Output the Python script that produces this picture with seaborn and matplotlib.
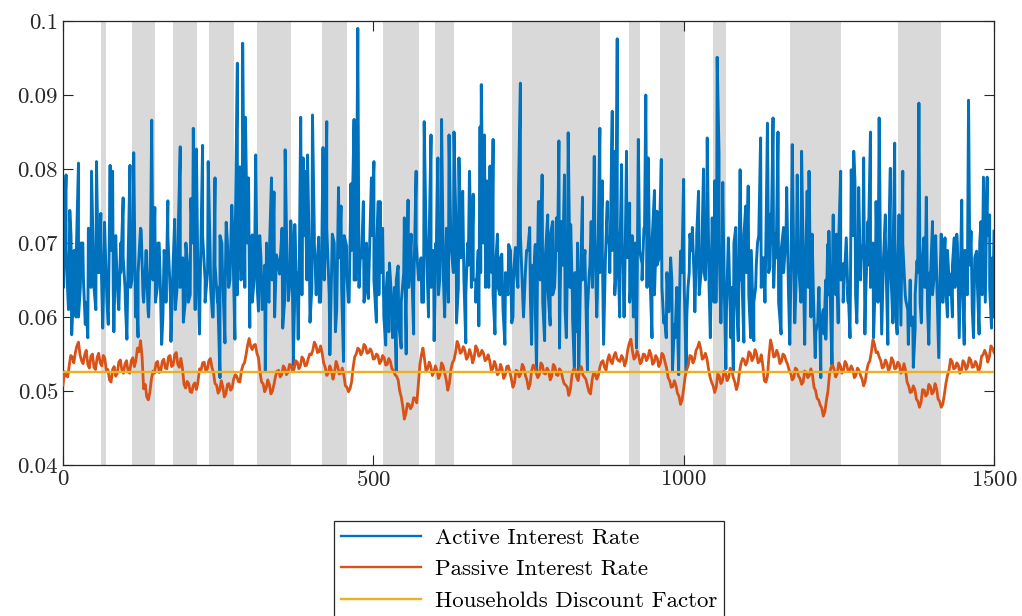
from matplotlib import pyplot as plt
from matplotlib.ticker import FuncFormatter
import seaborn
import pandas

# recession periods (shaded)
recessions = [(61, 70), (112, 149), (178, 216), (235, 275), (312, 367), (417, 457),
              (516, 573), (599, 630), (723, 866), (912, 930), (962, 1002), (1048, 1069),
              (1172, 1254), (1345, 1414)]

# active interest rate, peaks/troughs as (period, rate)
activePts = [
    (0, 0.0650), (2, 0.0715), (5, 0.0792), (8, 0.0626), (11, 0.0744), (14, 0.0576), (18, 0.0690), (21, 0.0600),
    (25, 0.0808), (28, 0.0640), (32, 0.0700), (36, 0.0590), (40, 0.0572), (43, 0.0700), (46, 0.0797), (50, 0.0640),
    (54, 0.0810), (58, 0.0660), (61, 0.0740), (64, 0.0585), (67, 0.0728), (71, 0.0620), (76, 0.0805), (80, 0.0797),
    (82, 0.0580), (86, 0.0680), (90, 0.0610), (93, 0.0700), (97, 0.0761), (100, 0.0640), (103, 0.0570), (108, 0.0805),
    (111, 0.0650), (114, 0.0822), (118, 0.0640), (121, 0.0573), (126, 0.0718), (130, 0.0620), (134, 0.0690), (138, 0.0600),
    (143, 0.0866), (148, 0.0748), (152, 0.0640), (155, 0.0700), (159, 0.0563), (163, 0.0690), (166, 0.0620), (169, 0.0757),
    (174, 0.0567), (180, 0.0732), (184, 0.0640), (189, 0.0830), (194, 0.0593), (198, 0.0700), (202, 0.0620), (206, 0.0760),
    (210, 0.0855), (215, 0.0827), (220, 0.0577), (225, 0.0832), (229, 0.0650), (234, 0.0810), (238, 0.0640), (242, 0.0600),
    (245, 0.0788), (249, 0.0620), (253, 0.0518), (256, 0.0700), (261, 0.0565), (263, 0.0728), (267, 0.0640), (272, 0.0751),
    (277, 0.0570), (281, 0.0943), (285, 0.0803), (287, 0.0650), (289.5, 0.0970), (294, 0.0870), (297, 0.0700), (299, 0.0788),
    (301, 0.0586), (305, 0.0711), (308, 0.0650), (310.5, 0.0819), (315, 0.0608), (319, 0.0680), (323, 0.0622), (326, 0.0527),
    (328, 0.0700), (332, 0.0620), (336, 0.0788), (340, 0.0769), (344, 0.0684), (349, 0.0658), (354, 0.0585), (358, 0.0826),
    (363, 0.0622), (367, 0.0730), (371, 0.0535), (373.5, 0.0725), (376, 0.0640), (379, 0.0570), (383, 0.0870), (387, 0.0815),
    (390, 0.0797), (394, 0.0819), (398, 0.0593), (402, 0.0873), (405, 0.0712), (408, 0.0630), (412, 0.0708), (415, 0.0620),
    (419, 0.0829), (422, 0.0680), (425, 0.0864), (430, 0.0549), (434, 0.0712), (439, 0.0580), (444, 0.0775), (448, 0.0750),
    (452, 0.0540), (457, 0.0696), (460, 0.0620), (464, 0.0780), (469, 0.0867), (472, 0.0650), (475, 0.0990), (479, 0.0681),
    (484, 0.0756), (488, 0.0640), (492, 0.0625), (497, 0.0788), (501, 0.0810), (505, 0.0593), (508, 0.0756), (511, 0.0756),
    (515, 0.0720), (520, 0.0562), (523, 0.0660), (526, 0.0673), (531, 0.0572), (534, 0.0640), (537, 0.0527), (540, 0.0669),
    (545, 0.0558), (550, 0.0734), (553, 0.0550), (556, 0.0758), (561, 0.0712), (565, 0.0577), (569, 0.0797), (574, 0.0660),
    (578, 0.0620), (582, 0.0864), (584, 0.0761), (589, 0.0600), (593, 0.0846), (598, 0.0568), (601, 0.0700), (604, 0.0815),
    (607, 0.0650), (610, 0.0867), (615, 0.0600), (618, 0.0720), (622, 0.0846), (626, 0.0689), (630, 0.0850), (634, 0.0592),
    (638, 0.0815), (644, 0.0770), (646, 0.0650), (649, 0.0565), (652, 0.0700), (655, 0.0797), (658, 0.0640), (661, 0.0766),
    (665, 0.0650), (670, 0.0588), (672, 0.0857), (674, 0.0914), (677, 0.0700), (679, 0.0846), (683, 0.0784), (686, 0.0640),
    (688, 0.0804), (691, 0.0660), (693, 0.0840), (696, 0.0577), (700, 0.0712), (704, 0.0630), (707, 0.0685), (712, 0.0563),
    (718, 0.0698), (723, 0.0592), (726, 0.0660), (729, 0.0694), (734, 0.0775), (737, 0.0916), (742, 0.0600), (747, 0.0690),
    (752, 0.0721), (755, 0.0563), (758, 0.0650), (761, 0.0698), (763, 0.0527), (766, 0.0756), (768, 0.0756), (772, 0.0792),
    (776, 0.0568), (781, 0.0738), (785, 0.0589), (789, 0.0729), (792, 0.0640), (795, 0.0734), (799, 0.0838), (800, 0.0558),
    (803, 0.0729), (808, 0.0792), (811, 0.0572), (814, 0.0849), (818, 0.0725), (821, 0.0620), (824, 0.0527), (828, 0.0580),
    (831, 0.0525), (834, 0.0660), (837, 0.0762), (841, 0.0690), (845, 0.0527), (848, 0.0660), (851, 0.0729), (856, 0.0817),
    (860, 0.0600), (865, 0.0855), (869, 0.0784), (871, 0.0563), (874, 0.0680), (877, 0.0756), (880, 0.0698), (885, 0.0878),
    (889, 0.0824), (891, 0.0660), (893, 0.0976), (897, 0.0600), (900, 0.0806), (904, 0.0600), (908, 0.0824), (913, 0.0754),
    (916, 0.0650), (919, 0.0600), (922, 0.0700), (924, 0.0558), (927, 0.0840), (933, 0.0672), (936, 0.0720), (939, 0.0900),
    (943, 0.0815), (946, 0.0650), (949, 0.0572), (953, 0.0771), (957, 0.0743), (961, 0.0681), (964, 0.0813), (968, 0.0592),
    (972, 0.0572), (976, 0.0607), (979, 0.0680), (982, 0.0527), (986, 0.0572), (989, 0.0640), (992, 0.0522), (995, 0.0689),
    (1000, 0.0786), (1004, 0.0527), (1007, 0.0640), (1010, 0.0712), (1014, 0.0721), (1018, 0.0607), (1021, 0.0698), (1024, 0.0770),
    (1028, 0.0660), (1032, 0.0800), (1035, 0.0650), (1038, 0.0842), (1043, 0.0572), (1046, 0.0734), (1050, 0.0784), (1052, 0.0620),
    (1054, 0.0951), (1057, 0.0820), (1060, 0.0592), (1063, 0.0782), (1068, 0.0530), (1072, 0.0707), (1076, 0.0572), (1080, 0.0527),
    (1084, 0.0721), (1088, 0.0568), (1091, 0.0799), (1094, 0.0650), (1097, 0.0566), (1100, 0.0750), (1104, 0.0777), (1108, 0.0572),
    (1110, 0.0660), (1113, 0.0568), (1116, 0.0640), (1119, 0.0700), (1124, 0.0842), (1128, 0.0680), (1131, 0.0620), (1135, 0.0862),
    (1139, 0.0667), (1141, 0.0740), (1144, 0.0869), (1148, 0.0712), (1152, 0.0850), (1157, 0.0577), (1161, 0.0721), (1166, 0.0775),
    (1171, 0.0563), (1175, 0.0833), (1179, 0.0592), (1183, 0.0792), (1186, 0.0660), (1190, 0.0824), (1195, 0.0563), (1199, 0.0770),
    (1202, 0.0797), (1207, 0.0712), (1212, 0.0545), (1216, 0.0592), (1218, 0.0640), (1221, 0.0518), (1226, 0.0577), (1229, 0.0650),
    (1232, 0.0698), (1234, 0.0716), (1239, 0.0535), (1241, 0.0738), (1246, 0.0712), (1249, 0.0592), (1253, 0.0797), (1257, 0.0672),
    (1262, 0.0707), (1265, 0.0620), (1268, 0.0572), (1270, 0.0799), (1274, 0.0824), (1276, 0.0784), (1279, 0.0592), (1282, 0.0775),
    (1286, 0.0676), (1290, 0.0815), (1292, 0.0577), (1297, 0.0729), (1301, 0.0850), (1304, 0.0650), (1306, 0.0572), (1310, 0.0756),
    (1315, 0.0869), (1319, 0.0577), (1322, 0.0680), (1325, 0.0738), (1329, 0.0563), (1333, 0.0801), (1337, 0.0592), (1340, 0.0835),
    (1344, 0.0577), (1347, 0.0738), (1350, 0.0589), (1353, 0.0797), (1358, 0.0622), (1362, 0.0563), (1366, 0.0589), (1370, 0.0532),
    (1373, 0.0585), (1376, 0.0676), (1379, 0.0889), (1383, 0.0592), (1387, 0.0707), (1391, 0.0762), (1395, 0.0563), (1398, 0.0660),
    (1401, 0.0729), (1406, 0.0710), (1411, 0.0545), (1415, 0.0712), (1418, 0.0620), (1421, 0.0707), (1425, 0.0600), (1430, 0.0658),
    (1433, 0.0600), (1436, 0.0707), (1440, 0.0712), (1444, 0.0572), (1448, 0.0758), (1452, 0.0563), (1456, 0.0689), (1459, 0.0893),
    (1463, 0.0716), (1467, 0.0572), (1472, 0.0689), (1476, 0.0577), (1479, 0.0729), (1483, 0.0789), (1486, 0.0620), (1489, 0.0789),
    (1493, 0.0738), (1496, 0.0585), (1498, 0.0600), (1500, 0.0716),
]

# active interest rate inside the dense core band, every 4 periods (offset 1)
activeCorePeriods = list(range(1, 1502, 4))
activeCoreRate = [
    0.064, 0.069, 0.061, 0.071, 0.063, 0.067, 0.060, 0.070, 0.065, 0.062, 0.072, 0.064, 0.068, 0.061, 0.066, 0.070, 0.062, 0.067, 0.059, 0.069, 0.064, 0.071, 0.062, 0.066, 0.068,
    0.061, 0.068, 0.064, 0.070, 0.060, 0.066, 0.072, 0.063, 0.067, 0.061, 0.069, 0.065, 0.062, 0.070, 0.064, 0.060, 0.067, 0.071, 0.063, 0.066, 0.061, 0.069, 0.064, 0.068, 0.062,
    0.067, 0.063, 0.070, 0.061, 0.068, 0.064, 0.071, 0.062, 0.066, 0.069, 0.060, 0.067, 0.064, 0.071, 0.066, 0.062, 0.070, 0.065, 0.073, 0.067, 0.063, 0.071, 0.068, 0.064, 0.072,
    0.066, 0.062, 0.069, 0.064, 0.071, 0.061, 0.067, 0.063, 0.070, 0.065, 0.060, 0.068, 0.066, 0.072, 0.062, 0.067, 0.064, 0.070, 0.061, 0.066, 0.069, 0.063, 0.071, 0.065, 0.068,
    0.064, 0.070, 0.066, 0.062, 0.069, 0.065, 0.072, 0.063, 0.067, 0.070, 0.061, 0.068, 0.064, 0.071, 0.066, 0.062, 0.069, 0.065, 0.073, 0.064, 0.068, 0.062, 0.070, 0.066, 0.071,
    0.065, 0.069, 0.063, 0.066, 0.060, 0.064, 0.058, 0.063, 0.060, 0.065, 0.059, 0.062, 0.066, 0.061, 0.064, 0.069, 0.063, 0.070, 0.065, 0.068, 0.062, 0.071, 0.066, 0.064, 0.069,
    0.067, 0.063, 0.071, 0.065, 0.069, 0.062, 0.070, 0.066, 0.073, 0.064, 0.068, 0.071, 0.063, 0.067, 0.070, 0.065, 0.062, 0.069, 0.066, 0.072, 0.064, 0.068, 0.071, 0.063, 0.067,
    0.064, 0.068, 0.061, 0.066, 0.063, 0.069, 0.060, 0.067, 0.064, 0.071, 0.062, 0.066, 0.069, 0.063, 0.067, 0.061, 0.070, 0.065, 0.062, 0.068, 0.064, 0.071, 0.063, 0.066, 0.069,
    0.063, 0.067, 0.061, 0.069, 0.064, 0.060, 0.066, 0.070, 0.062, 0.065, 0.068, 0.061, 0.067, 0.064, 0.071, 0.063, 0.066, 0.069, 0.064, 0.071, 0.066, 0.069, 0.063, 0.072, 0.067,
    0.070, 0.064, 0.068, 0.062, 0.071, 0.066, 0.063, 0.069, 0.065, 0.072, 0.064, 0.068, 0.070, 0.063, 0.067, 0.071, 0.064, 0.060, 0.066, 0.062, 0.065, 0.059, 0.063, 0.061, 0.066,
    0.064, 0.060, 0.066, 0.069, 0.065, 0.071, 0.063, 0.068, 0.066, 0.072, 0.064, 0.069, 0.062, 0.067, 0.070, 0.063, 0.066, 0.061, 0.068, 0.064, 0.070, 0.062, 0.067, 0.065, 0.071,
    0.066, 0.063, 0.069, 0.062, 0.067, 0.071, 0.064, 0.068, 0.073, 0.066, 0.070, 0.064, 0.068, 0.062, 0.069, 0.066, 0.071, 0.063, 0.067, 0.070, 0.064, 0.068, 0.062, 0.066, 0.069,
    0.064, 0.060, 0.063, 0.058, 0.062, 0.059, 0.061, 0.057, 0.063, 0.060, 0.066, 0.063, 0.068, 0.065, 0.062, 0.069, 0.064, 0.067, 0.071, 0.063, 0.068, 0.065, 0.070, 0.062, 0.067,
    0.064, 0.070, 0.066, 0.062, 0.069, 0.065, 0.071, 0.063, 0.068, 0.066, 0.061, 0.067, 0.064, 0.070, 0.063, 0.061, 0.065, 0.060, 0.063, 0.066, 0.062, 0.068, 0.064, 0.061, 0.066,
    0.063, 0.067, 0.061, 0.065, 0.062, 0.066, 0.069, 0.063, 0.067, 0.064, 0.070, 0.062, 0.066, 0.069, 0.063, 0.067, 0.061, 0.068, 0.065, 0.070, 0.063, 0.067, 0.071, 0.064, 0.068,
]

# passive interest rate, every 5 periods
passivePeriods = list(range(0, 1501, 5))
passiveRate = [
    0.0508, 0.0521, 0.0534, 0.0546, 0.0552, 0.0566, 0.0541, 0.0549, 0.0536, 0.0547, 0.0532, 0.0545, 0.0538, 0.0548, 0.0527, 0.0515, 0.0529, 0.0520, 0.0539, 0.0528,
    0.0537, 0.0526, 0.0541, 0.0533, 0.0558, 0.0568, 0.0503, 0.0492, 0.0498, 0.0527, 0.0538, 0.0525, 0.0540, 0.0531, 0.0546, 0.0533, 0.0549, 0.0536, 0.0544, 0.0509,
    0.0513, 0.0499, 0.0508, 0.0502, 0.0530, 0.0538, 0.0527, 0.0541, 0.0532, 0.0510, 0.0497, 0.0514, 0.0492, 0.0509, 0.0501, 0.0516, 0.0520, 0.0512, 0.0535, 0.0549,
    0.0571, 0.0556, 0.0563, 0.0545, 0.0512, 0.0499, 0.0515, 0.0496, 0.0509, 0.0527, 0.0519, 0.0534, 0.0522, 0.0536, 0.0526, 0.0541, 0.0530, 0.0546, 0.0534, 0.0543,
    0.0549, 0.0566, 0.0552, 0.0561, 0.0538, 0.0521, 0.0534, 0.0516, 0.0540, 0.0523, 0.0531, 0.0507, 0.0499, 0.0512, 0.0546, 0.0558, 0.0549, 0.0563, 0.0551, 0.0557,
    0.0543, 0.0550, 0.0537, 0.0548, 0.0535, 0.0544, 0.0530, 0.0522, 0.0515, 0.0492, 0.0462, 0.0483, 0.0476, 0.0491, 0.0484, 0.0535, 0.0558, 0.0526, 0.0539, 0.0521,
    0.0534, 0.0517, 0.0538, 0.0524, 0.0501, 0.0529, 0.0542, 0.0567, 0.0551, 0.0560, 0.0543, 0.0556, 0.0538, 0.0561, 0.0547, 0.0555, 0.0541, 0.0549, 0.0528, 0.0540,
    0.0522, 0.0536, 0.0517, 0.0533, 0.0526, 0.0505, 0.0528, 0.0519, 0.0536, 0.0521, 0.0503, 0.0527, 0.0533, 0.0518, 0.0538, 0.0524, 0.0531, 0.0515, 0.0536, 0.0522,
    0.0530, 0.0517, 0.0508, 0.0494, 0.0521, 0.0530, 0.0514, 0.0533, 0.0519, 0.0507, 0.0496, 0.0525, 0.0516, 0.0532, 0.0541, 0.0528, 0.0549, 0.0537, 0.0552, 0.0541,
    0.0548, 0.0534, 0.0556, 0.0570, 0.0543, 0.0554, 0.0537, 0.0550, 0.0541, 0.0555, 0.0536, 0.0548, 0.0533, 0.0551, 0.0539, 0.0518, 0.0505, 0.0514, 0.0497, 0.0482,
    0.0503, 0.0529, 0.0548, 0.0538, 0.0555, 0.0566, 0.0543, 0.0551, 0.0530, 0.0512, 0.0498, 0.0523, 0.0510, 0.0527, 0.0514, 0.0531, 0.0518, 0.0502, 0.0526, 0.0544,
    0.0535, 0.0553, 0.0541, 0.0556, 0.0538, 0.0549, 0.0514, 0.0520, 0.0569, 0.0546, 0.0555, 0.0537, 0.0550, 0.0541, 0.0528, 0.0515, 0.0531, 0.0520, 0.0509, 0.0527,
    0.0518, 0.0530, 0.0505, 0.0490, 0.0481, 0.0466, 0.0487, 0.0523, 0.0535, 0.0519, 0.0538, 0.0524, 0.0540, 0.0527, 0.0534, 0.0518, 0.0531, 0.0521, 0.0507, 0.0528,
    0.0541, 0.0569, 0.0552, 0.0546, 0.0531, 0.0542, 0.0527, 0.0545, 0.0530, 0.0539, 0.0524, 0.0537, 0.0512, 0.0498, 0.0507, 0.0489, 0.0478, 0.0502, 0.0493, 0.0509,
    0.0496, 0.0510, 0.0489, 0.0478, 0.0495, 0.0521, 0.0543, 0.0530, 0.0538, 0.0524, 0.0541, 0.0529, 0.0545, 0.0532, 0.0540, 0.0526, 0.0547, 0.0555, 0.0539, 0.0561,
    0.0552,
]

# passive interest rate, in-between periods (2.5, 7.5, ...)
passiveMidPeriods = [p + 2.5 for p in range(0, 1500, 5)]
passiveMidRate = [
    0.0526, 0.0519, 0.0548, 0.0538, 0.0561, 0.0549, 0.0537, 0.0555, 0.0531, 0.0550, 0.0529, 0.0551, 0.0534, 0.0544, 0.0529, 0.0512, 0.0533, 0.0524, 0.0542, 0.0524,
    0.0541, 0.0524, 0.0545, 0.0541, 0.0553, 0.0546, 0.0509, 0.0488, 0.0516, 0.0524, 0.0540, 0.0527, 0.0543, 0.0530, 0.0548, 0.0535, 0.0552, 0.0532, 0.0531, 0.0504,
    0.0510, 0.0498, 0.0511, 0.0512, 0.0528, 0.0539, 0.0529, 0.0544, 0.0525, 0.0508, 0.0501, 0.0506, 0.0496, 0.0510, 0.0504, 0.0522, 0.0513, 0.0527, 0.0538, 0.0562,
    0.0560, 0.0562, 0.0551, 0.0525, 0.0510, 0.0504, 0.0509, 0.0500, 0.0520, 0.0528, 0.0522, 0.0531, 0.0525, 0.0535, 0.0530, 0.0539, 0.0534, 0.0543, 0.0535, 0.0550,
    0.0555, 0.0562, 0.0553, 0.0552, 0.0532, 0.0524, 0.0528, 0.0525, 0.0534, 0.0524, 0.0522, 0.0505, 0.0503, 0.0532, 0.0550, 0.0556, 0.0553, 0.0560, 0.0552, 0.0553,
    0.0544, 0.0548, 0.0540, 0.0545, 0.0536, 0.0540, 0.0528, 0.0520, 0.0500, 0.0479, 0.0470, 0.0482, 0.0480, 0.0490, 0.0508, 0.0549, 0.0543, 0.0530, 0.0534, 0.0525,
    0.0528, 0.0522, 0.0534, 0.0515, 0.0510, 0.0538, 0.0552, 0.0562, 0.0553, 0.0555, 0.0546, 0.0550, 0.0545, 0.0557, 0.0549, 0.0551, 0.0543, 0.0541, 0.0530, 0.0535,
    0.0525, 0.0530, 0.0521, 0.0534, 0.0516, 0.0511, 0.0527, 0.0523, 0.0532, 0.0515, 0.0509, 0.0535, 0.0524, 0.0522, 0.0535, 0.0523, 0.0527, 0.0520, 0.0533, 0.0521,
    0.0527, 0.0510, 0.0505, 0.0502, 0.0529, 0.0519, 0.0527, 0.0522, 0.0516, 0.0499, 0.0515, 0.0523, 0.0521, 0.0539, 0.0532, 0.0542, 0.0540, 0.0547, 0.0544, 0.0540,
    0.0544, 0.0541, 0.0565, 0.0554, 0.0546, 0.0548, 0.0540, 0.0549, 0.0545, 0.0549, 0.0539, 0.0544, 0.0538, 0.0548, 0.0531, 0.0514, 0.0506, 0.0508, 0.0493, 0.0488,
    0.0520, 0.0535, 0.0547, 0.0543, 0.0559, 0.0557, 0.0545, 0.0544, 0.0519, 0.0507, 0.0505, 0.0520, 0.0514, 0.0524, 0.0518, 0.0528, 0.0512, 0.0509, 0.0538, 0.0542,
    0.0540, 0.0551, 0.0545, 0.0550, 0.0540, 0.0535, 0.0512, 0.0548, 0.0560, 0.0547, 0.0549, 0.0540, 0.0548, 0.0536, 0.0524, 0.0518, 0.0529, 0.0517, 0.0512, 0.0525,
    0.0521, 0.0522, 0.0501, 0.0488, 0.0477, 0.0472, 0.0500, 0.0532, 0.0529, 0.0524, 0.0534, 0.0528, 0.0536, 0.0528, 0.0529, 0.0521, 0.0528, 0.0516, 0.0513, 0.0537,
    0.0553, 0.0563, 0.0553, 0.0541, 0.0533, 0.0538, 0.0532, 0.0541, 0.0531, 0.0536, 0.0527, 0.0528, 0.0507, 0.0499, 0.0502, 0.0486, 0.0485, 0.0501, 0.0496, 0.0506,
    0.0499, 0.0503, 0.0486, 0.0482, 0.0510, 0.0528, 0.0540, 0.0531, 0.0535, 0.0528, 0.0538, 0.0533, 0.0542, 0.0533, 0.0536, 0.0532, 0.0549, 0.0550, 0.0546, 0.0558,
]

# households discount factor (flat)
discountRate = 0.0526

rcParams = plt.rcParams
rcParams['font.family'] = ['cmr10', 'DejaVu Serif']
rcParams['mathtext.fontset'] = 'cm'
rcParams['axes.formatter.use_mathtext'] = True

activeDF = pandas.concat([
    pandas.DataFrame(activePts, columns=['Period', 'Rate']),
    pandas.DataFrame({'Period': activeCorePeriods[:len(activeCoreRate)], 'Rate': activeCoreRate}),
]).sort_values('Period', kind='stable').reset_index(drop=True)
activeDF = activeDF[activeDF['Period'] <= 1500]
passiveDF = pandas.concat([
    pandas.DataFrame({'Period': passivePeriods, 'Rate': passiveRate}),
    pandas.DataFrame({'Period': passiveMidPeriods, 'Rate': passiveMidRate}),
]).sort_values('Period').reset_index(drop=True)
discountDF = pandas.DataFrame({'Period': passivePeriods, 'Rate': discountRate})

fig = plt.figure(figsize=(10.22, 6.16), dpi=100)
ax = fig.add_axes([0.0616, 0.2451, 0.9110, 0.7208])

for start, end in recessions:
    ax.axvspan(start, end, color='#d9d9d9', lw=0, zorder=0)

seaborn.lineplot(data=activeDF, x='Period', y='Rate', ax=ax, color='#0072BD', lw=2.1,
                 estimator=None, sort=False, label='Active Interest Rate', zorder=2)
seaborn.lineplot(data=passiveDF, x='Period', y='Rate', ax=ax, color='#D95319', lw=2.0,
                 estimator=None, sort=False, label='Passive Interest Rate', zorder=3)
seaborn.lineplot(data=discountDF, x='Period', y='Rate', ax=ax, color='#EDB120', lw=1.7,
                 estimator=None, label='Households Discount Factor', zorder=4)

ax.set_xlim(0, 1500)
ax.set_ylim(0.04, 0.1)
ax.set_xticks([0, 500, 1000, 1500])
ax.set_yticks([0.04, 0.05, 0.06, 0.07, 0.08, 0.09, 0.1])
ax.yaxis.set_major_formatter(FuncFormatter(lambda v, p: '{:g}'.format(round(v, 3))))
ax.set_xlabel('')
ax.set_ylabel('')
ax.tick_params(direction='in', length=7, width=0.8, labelsize=16.5, top=True, right=True,
               color='#262626', labelcolor='#262626')
for spine in ax.spines.values():
    spine.set_color('#262626')
    spine.set_linewidth(0.9)

handles, labels = ax.get_legend_handles_labels()
ax.get_legend().remove()
leg = fig.legend(handles, labels, loc='upper center', bbox_to_anchor=(0.5176, 0.173),
                 fontsize=16.5, handlelength=3.5, labelspacing=0.5, borderpad=0.3,
                 handletextpad=0.6, fancybox=False, framealpha=1, edgecolor='#262626')
leg.get_frame().set_linewidth(0.9)
for line in leg.get_lines():
    line.set_linewidth(1.7)

fig.savefig('out.png', dpi=100)
